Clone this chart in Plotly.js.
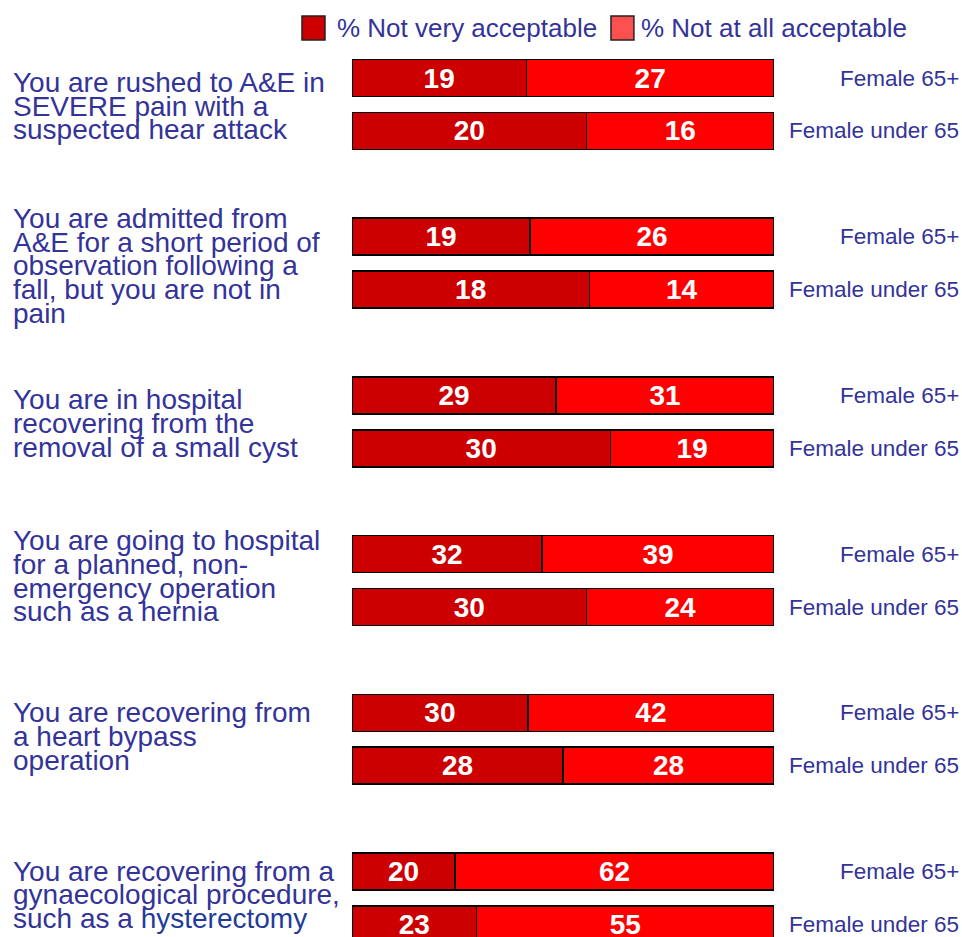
<!DOCTYPE html>
<html>
<head>
<meta charset="utf-8">
<script src="https://cdn.plot.ly/plotly-3.0.1.min.js"></script>
<style>html,body{margin:0;padding:0;background:#fff;}#chart{width:962px;height:937px;}</style>
</head>
<body>
<div id="chart"></div>
<script>
// ---- data ----
const categories = [
  "You are rushed to A&E in<br>SEVERE pain with a<br>suspected hear attack",
  "You are admitted from<br>A&E for a short period of<br>observation following a<br>fall, but you are not in<br>pain",
  "You are in hospital<br>recovering from the<br>removal of a small cyst",
  "You are going to hospital<br>for a planned, non-<br>emergency operation<br>such as a hernia",
  "You are recovering from<br>a heart bypass<br>operation",
  "You are recovering from a<br>gynaecological procedure,<br>such as a hysterectomy"
];
const groups = ["Female 65+", "Female under 65"];
const seriesNames = ["% Not very acceptable", "% Not at all acceptable"];
const notVery65 = [19, 19, 29, 32, 30, 20];
const notVeryU65 = [20, 18, 30, 30, 28, 23];
const notAtAll65 = [27, 26, 31, 39, 42, 62];
const notAtAllU65 = [16, 14, 19, 24, 28, 55];

// ---- build ----
const blue = "#333399";
const FONT = "Liberation Sans, Arial, sans-serif";
const pos = [], vNV = [], vNA = [];
categories.forEach((c, g) => {
  pos.push(3 * g, 3 * g + 1);
  vNV.push(notVery65[g], notVeryU65[g]);
  vNA.push(notAtAll65[g], notAtAllU65[g]);
});

const common = {
  type: "bar", orientation: "h", y: pos, width: 0.7,
  textposition: "inside", insidetextanchor: "middle", textangle: 0,
  constraintext: "none",
  textfont: {family: "Liberation Sans Narrow, Liberation Sans, Arial, sans-serif", size: 28, color: "#ffffff", weight: 700},
  hoverinfo: "none", showlegend: false
};
const traces = [
  Object.assign({}, common, {name: seriesNames[0], x: vNV, text: vNV.map(String),
    marker: {color: "#cc0000", line: {color: "#000000", width: 1.5}}}),
  Object.assign({}, common, {name: seriesNames[1], x: vNA, text: vNA.map(String),
    marker: {color: "#ff0000", line: {color: "#000000", width: 1.5}}})
];

const annotations = [];
const shapes = [];
const lineStep = 0.448;
const labelShift = [-0.02, 0.0, -0.02, -0.13, -0.1, -0.11];
categories.forEach((c, g) => {
  const lines = c.split("<br>");
  const center = 3 * g + 0.5 + labelShift[g];
  lines.forEach((ln, k) => {
    const shown = ln.replace("hysterectomy", '<span style="color:#1f3c99">hysterectomy</span>');
    annotations.push({
      xref: "paper", yref: "y", x: -0.8057, y: center + (k - (lines.length - 1) / 2) * lineStep + 0.05,
      xanchor: "left", yanchor: "middle", showarrow: false, borderpad: 0,
      text: shown, font: {family: FONT, size: 28, color: blue}
    });
  });
  groups.forEach((gr, j) => {
    annotations.push({
      xref: "paper", yref: "y", x: 1.4408, y: 3 * g + j,
      xanchor: "right", yanchor: "middle", showarrow: false, borderpad: 0,
      text: gr, font: {family: FONT, size: 22.5, color: blue}
    });
  });
});

// manual legend
const legendItems = [
  {sw: [-0.1185, -0.064], color: "#cc0000", tx: -0.038},
  {sw: [0.6137, 0.668], color: "#ff5050", tx: 0.682}
];
legendItems.forEach((it, i) => {
  shapes.push({type: "rect", xref: "paper", yref: "paper", x0: it.sw[0], x1: it.sw[1], y0: 1.0136, y1: 1.0407,
    fillcolor: it.color, line: {color: "#222222", width: 1.5}});
  annotations.push({xref: "paper", yref: "paper", x: it.tx, y: 1.0271, xanchor: "left", yanchor: "middle",
    showarrow: false, borderpad: 0, text: seriesNames[i], font: {family: FONT, size: 26, color: blue}});
});

const layout = {
  width: 962, height: 937,
  margin: {l: 352, r: 188, t: 52, b: 0, pad: 0},
  paper_bgcolor: "#ffffff", plot_bgcolor: "#ffffff",
  barmode: "stack", barnorm: "percent",
  showlegend: false,
  xaxis: {range: [0, 100], showgrid: false, zeroline: false, showticklabels: false, showline: false, fixedrange: true},
  yaxis: {range: [16.238, -0.4915], autorange: false, showgrid: false, zeroline: false, showticklabels: false, showline: false, fixedrange: true},
  annotations: annotations, shapes: shapes,
  font: {family: FONT, color: blue}
};
Plotly.newPlot("chart", traces, layout, {displayModeBar: false, staticPlot: true});
</script>
</body>
</html>
